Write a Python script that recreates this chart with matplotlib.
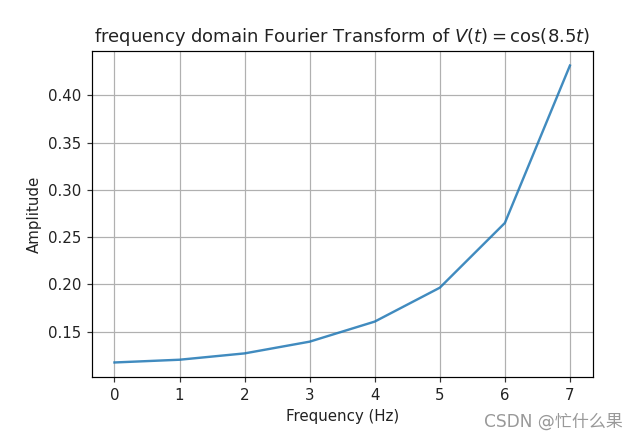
import matplotlib
matplotlib.use("Agg")
import matplotlib.pyplot as plt

freq = [0, 1, 2, 3, 4, 5, 6, 7]
amp = [0.1176, 0.1205, 0.1272, 0.1396, 0.1608, 0.1966, 0.2650, 0.4313]

dpi = 108
fig = plt.figure(figsize=(640 / dpi, 439 / dpi), dpi=dpi)
ax = fig.add_axes([0.1433, 0.1405, 0.7828, 0.744])
ax.plot(freq, amp, color='#1f77b4', alpha=0.85, linewidth=1.6)
ax.grid(True)
ax.set_title(r'frequency domain Fourier Transform of $V(t)=\cos(8.5t)$', color='#222222')
ax.set_xlabel('Frequency (Hz)', color='#222222')
ax.set_ylabel('Amplitude', color='#222222')
ax.tick_params(colors='#333333', labelcolor='#222222')

fig.text(0.974, 0.039, 'CSDN @忙什么果', ha='right', va='center', color='#999999',
         fontsize=11.3, family=['DejaVu Sans', 'Noto Sans CJK SC'])

fig.savefig('out.png', dpi=dpi)
